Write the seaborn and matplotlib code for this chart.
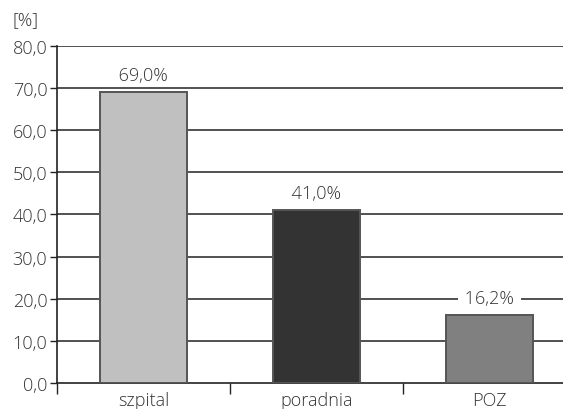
import matplotlib
matplotlib.use("Agg")
import matplotlib.pyplot as plt
import seaborn as sns
import pandas as pd
from matplotlib.ticker import FixedLocator, NullFormatter

categories = ["szpital", "poradnia", "POZ"]
values = [69.0, 41.0, 16.2]
bar_colors = ["#c0c0c0", "#333333", "#808080"]
y_ticks = [0, 10, 20, 30, 40, 50, 60, 70, 80]

sns.set_theme(style="white")
plt.rcParams["font.family"] = ["Open Sans", "DejaVu Sans"]
plt.rcParams["font.weight"] = "light"

text_color = "#333333"
fs = 13
df = pd.DataFrame({"miejsce": categories, "odsetek": values})

fig = plt.figure(figsize=(5.63, 4.10), dpi=100)
ax = fig.add_axes([57 / 563, 26 / 410, 506 / 563, (384 - 46.7) / 410])

sns.barplot(data=df, x="miejsce", y="odsetek", hue="miejsce",
            palette=bar_colors, width=0.5, ax=ax, legend=False,
            edgecolor="#555555", linewidth=1.4, zorder=3)

ax.set_ylim(0, 80)
ax.set_xlim(-0.5, -0.5 + 506 / 173)

# horizontal grid lines
for y in y_ticks[1:]:
    ax.axhline(y, color="#333333", linewidth=1.2, zorder=1)

ax.set_yticks(y_ticks)
ax.set_yticklabels([f"{v:.1f}".replace(".", ",") for v in y_ticks],
                   fontsize=fs, color=text_color)
ax.tick_params(axis="y", length=5, width=1, color="#222222", pad=2, left=True)

# category boundaries as major ticks, labels on minor ticks
ax.xaxis.set_major_locator(FixedLocator([-0.5, 0.5, 1.5]))
ax.xaxis.set_major_formatter(NullFormatter())
ax.xaxis.set_minor_locator(FixedLocator([0, 1, 2]))
ax.set_xticklabels(categories, minor=True, fontsize=fs, color=text_color)
ax.tick_params(axis="x", which="major", length=8, width=1, color="#222222",
               bottom=True, direction="out")
ax.tick_params(axis="x", which="minor", length=0, pad=6, bottom=True)

ax.set_xlabel("")
ax.set_ylabel("")

for side in ["top", "right"]:
    ax.spines[side].set_visible(False)
for side in ["left", "bottom"]:
    ax.spines[side].set_color("#222222")
    ax.spines[side].set_linewidth(1.2)

# value labels above bars, with a white backing that breaks the grid line
for i, v in enumerate(values):
    label = f"{v:.1f}".replace(".", ",") + "%"
    ax.annotate(f" {label} ", xy=(i, v),
                xytext=(0, 17), textcoords="offset pixels",
                ha="center", va="center", fontsize=fs, color=text_color,
                bbox=dict(boxstyle="square,pad=0.1", fc="white", ec="none"),
                zorder=4)

fig.text(12 / 563, 1 - 20 / 410, "[%]", ha="left", va="center",
         fontsize=fs, color=text_color)

fig.savefig("out.png", dpi=100)
